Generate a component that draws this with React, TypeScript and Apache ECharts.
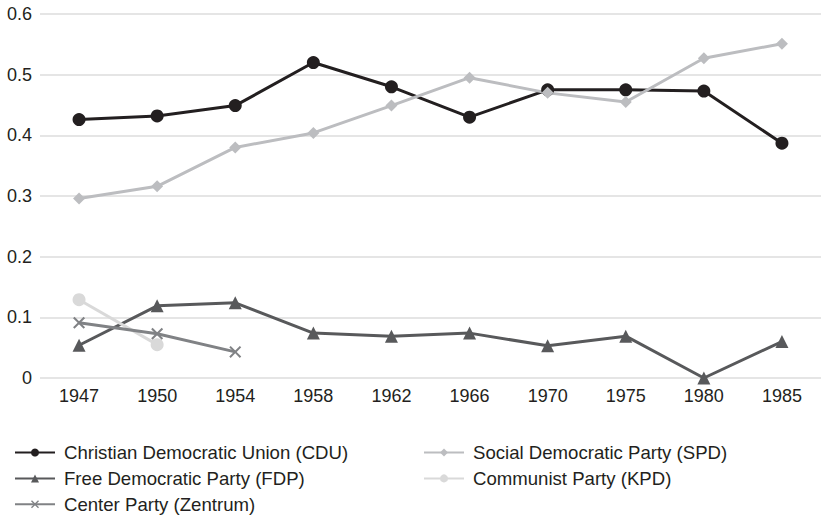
import React, { useEffect, useRef } from "react";
import * as echarts from "echarts";

const years = ["1947", "1950", "1954", "1958", "1962", "1966", "1970", "1975", "1980", "1985"];
const cdu = [0.426, 0.432, 0.449, 0.52, 0.48, 0.43, 0.475, 0.475, 0.473, 0.387];
const spd = [0.296, 0.316, 0.38, 0.404, 0.449, 0.495, 0.47, 0.455, 0.527, 0.551];
const fdp = [0.054, 0.119, 0.124, 0.074, 0.069, 0.074, 0.053, 0.069, 0.0, 0.06];
const kpd = [0.129, 0.055, null, null, null, null, null, null, null, null];
const zentrum = [0.091, 0.073, 0.043, null, null, null, null, null, null, null];
const yTicks = [0, 0.1, 0.2, 0.3, 0.4, 0.5, 0.6];

const FONT = "Liberation Sans, Arial, Helvetica, sans-serif";
const CROSS = "path://M0,1.2L1.2,0L5,3.8L8.8,0L10,1.2L6.2,5L10,8.8L8.8,10L5,6.2L1.2,10L0,8.8L3.8,5Z";

export default function App() {
  const ref = useRef<HTMLDivElement>(null);
  useEffect(() => {
    document.body.style.margin = "0";
    const chart = echarts.init(ref.current!, undefined, { renderer: "svg" });
    const mk = (name: string, data: any[], color: string, symbol: string, size: number) => ({
      name,
      type: "line",
      data,
      symbol,
      symbolSize: size,
      showAllSymbol: true,
      connectNulls: false,
      lineStyle: { color, width: 3 },
      itemStyle: { color },
      emphasis: { disabled: true },
    });
    const legendText = { color: "#231f20", fontSize: 18.6, fontFamily: FONT, padding: [0, 0, 0, 4] };
    chart.setOption({
      animation: false,
      backgroundColor: "#ffffff",
      grid: { left: 40, top: 14, width: 784, height: 364 },
      xAxis: {
        type: "category",
        data: years,
        boundaryGap: true,
        axisLine: { show: false },
        axisTick: { show: false },
        axisLabel: { color: "#231f20", fontSize: 18, fontFamily: FONT, margin: 9 },
      },
      yAxis: {
        type: "value",
        min: 0,
        max: 0.6,
        interval: 0.1,
        axisLine: { show: false },
        axisTick: { show: false },
        splitLine: { lineStyle: { color: "#dcdcdc", width: 1.5 } },
        axisLabel: {
          color: "#231f20",
          fontSize: 18,
          fontFamily: FONT,
          margin: 8,
          formatter: (v: number) => {
            const t = yTicks.find((x) => Math.abs(x - v) < 1e-9);
            const val = t === undefined ? v : t;
            return val === 0 ? "0" : val.toFixed(1);
          },
        },
      },
      legend: [
        {
          orient: "vertical",
          left: 14,
          top: 443,
          padding: 0,
          itemWidth: 40,
          itemHeight: 10,
          itemGap: 6.9,
          textStyle: legendText,
          data: ["Christian Democratic Union (CDU)", "Free Democratic Party (FDP)", "Center Party (Zentrum)"],
        },
        {
          orient: "vertical",
          left: 423,
          top: 443,
          padding: 0,
          itemWidth: 40,
          itemHeight: 10,
          itemGap: 6.9,
          textStyle: legendText,
          data: ["Social Democratic Party (SPD)", "Communist Party (KPD)"],
        },
      ],
      series: [
        mk("Christian Democratic Union (CDU)", cdu, "#231f20", "circle", 13),
        mk("Social Democratic Party (SPD)", spd, "#bcbdc0", "diamond", 12),
        mk("Free Democratic Party (FDP)", fdp, "#58595b", "triangle", 13),
        mk("Communist Party (KPD)", kpd, "#d9d9d9", "circle", 13),
        mk("Center Party (Zentrum)", zentrum, "#808285", CROSS, 12),
      ],
    });
    return () => chart.dispose();
  }, []);
  return <div ref={ref} style={{ width: 821, height: 515 }} />;
}
